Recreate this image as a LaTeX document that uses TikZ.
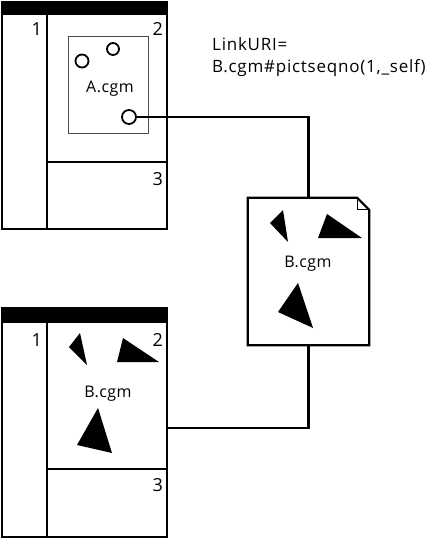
\documentclass[tikz,border=0pt]{standalone}
\usepackage{fontspec}
\setmainfont{Open Sans}
\usetikzlibrary{positioning, calc}
\definecolor{frameink}{HTML}{000000}
\definecolor{picgray}{HTML}{4D4D4D}

\begin{document}
\begin{tikzpicture}[x=1pt, y=-1pt,
    pane/.style={draw=frameink, line width=2.2pt},
    winbox/.style={pane, rectangle, minimum width=165pt, minimum height=#1, inner sep=0pt},
    titlebar/.style={fill=frameink},
    panenum/.style={anchor=north east, inner sep=0pt, font=\fontsize{18}{18}\selectfont},
    spot/.style={circle, draw=frameink, line width=1.8pt, fill=white, inner sep=0pt, minimum size=#1},
    wedge/.style={fill=frameink},
    wire/.style={draw=frameink, line width=2.2pt},
    fname/.style={anchor=base, inner sep=0pt, font=\fontsize{16}{16}\selectfont\addfontfeature{LetterSpace=3}},
    caption/.style={anchor=base west, inner sep=0pt, align=left,
                    font=\fontsize{17}{22}\selectfont\addfontfeature{LetterSpace=4.5}}
]
\useasboundingbox (0,0) rectangle (426,538);

% upper window, showing A.cgm
\node[winbox=227pt] (winA) at (84.5,115.5) {};
\fill[titlebar] (winA.north west) rectangle (167,15);
\draw[pane] (47,15) -- (47,0 |- winA.south);
\draw[pane] (47,162) -- (winA.east |- 0,162);
\node[panenum] (numA1) at (42,22) {1};
\node[panenum] (numA2) at (163,22) {2};
\node[panenum] (numA3) at (163,172) {3};

\node[draw=picgray, line width=1pt, minimum width=80pt, minimum height=97pt, inner sep=0pt] (picA) at (108,84.5) {};
\node[fname] (nameA) at (110,92) {A.cgm};
\node[spot=13pt] (spotA1) at (82,61) {};
\node[spot=12pt] (spotA2) at (113,49) {};
\node[spot=14pt] (hot) at (129,117) {};

% link text
\node[caption] (link) at (212,72) {LinkURI=\\B.cgm\#pictseqno(1,\_self)};

% the target document
\node[minimum width=121pt, minimum height=147pt, inner sep=0pt] (doc) at (308.5,271.5) {};
\draw[pane, fill=white] (doc.south west) -- (doc.north west) -- ([xshift=-12pt]doc.north east)
    -- ([yshift=-12pt]doc.north east) -- (doc.south east) -- cycle;
\draw[line width=1pt] ([xshift=-12pt]doc.north east) |- ([yshift=-12pt]doc.north east);
\fill[wedge] (270,223) -- (283,210) -- (288,242) -- cycle;
\fill[wedge] (318,238) -- (327,214) -- (362,238) -- cycle;
\fill[wedge] (278,312) -- (298,283) -- (313,328) -- cycle;
\node[fname] (nameB) at (308,267) {B.cgm};

% lower window, showing B.cgm
\node[winbox=229pt] (winB) at (84.5,422.5) {};
\fill[titlebar] (winB.north west) rectangle (167,323);
\draw[pane] (47,323) -- (47,0 |- winB.south);
\draw[pane] (47,469) -- (winB.east |- 0,469);
\node[panenum] (numB1) at (42,333) {1};
\node[panenum] (numB2) at (163,333) {2};
\node[panenum] (numB3) at (163,478) {3};
\fill[wedge] (69,347) -- (80,333) -- (87,365) -- cycle;
\fill[wedge] (117,362) -- (123,338) -- (159,362) -- cycle;
\fill[wedge] (77,445) -- (98,408) -- (112,453) -- cycle;
\node[fname] (nameB2) at (108,397) {B.cgm};
\coordinate (paneBexit) at (winB.east |- 0,428);

% connectors
\draw[wire] (hot.east) -| (doc.north);
\draw[wire] (doc.south) |- (paneBexit);
\end{tikzpicture}
\end{document}
